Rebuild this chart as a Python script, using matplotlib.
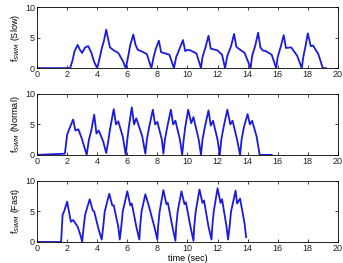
import numpy as np
import matplotlib.pyplot as plt

plt.rcParams['font.family'] = ['Liberation Sans', 'DejaVu Sans']

# slow walking
t_slow = [0, 2.2, 2.35, 2.5, 2.7, 2.85, 3.0, 3.2, 3.4, 3.6, 3.8, 4.0, 4.15, 4.3, 4.45, 4.6, 4.75, 4.85, 5.1, 5.4, 5.7, 5.9,
          6.05, 6.2, 6.4, 6.55, 6.7, 7.0, 7.3, 7.6, 7.75, 7.9, 8.1, 8.25, 8.4, 8.8, 9.1, 9.25, 9.45, 9.7, 9.85, 10.0, 10.2, 10.6, 10.9,
          11.0, 11.2, 11.4, 11.55, 11.7, 12.0, 12.3, 12.5, 12.65, 12.9, 13.1, 13.25, 13.4, 13.8, 14.2,
          14.3, 14.5, 14.7, 14.85, 15.0, 15.2, 15.6, 15.9, 16.0, 16.2, 16.4, 16.55, 16.9, 17.3, 17.6,
          17.7, 17.85, 18.0, 18.2, 18.35, 18.7, 19.0, 19.2]
f_slow = [0, 0, 1.2, 2.8, 3.8, 3.0, 2.5, 3.4, 3.6, 2.6, 1.0, 0, 1.5, 3.2, 4.5, 6.3, 4.5, 3.4, 2.9, 2.5, 1.2, 0,
          1.8, 3.8, 5.5, 3.8, 3.0, 2.7, 2.3, 0, 1.8, 3.2, 4.5, 2.6, 2.5, 2.2, 0, 1.8, 3.0, 4.6, 2.8, 3.0, 2.9, 2.4, 0,
          1.8, 3.4, 5.3, 3.2, 3.1, 2.9, 2.2, 0, 2.0, 3.6, 5.6, 3.5, 3.2, 2.5, 0,
          2.0, 3.6, 5.8, 3.4, 2.9, 2.8, 2.2, 0, 1.8, 3.5, 5.4, 3.3, 3.4, 2.0, 0,
          1.8, 3.6, 5.7, 3.6, 3.7, 2.3, 0, 0]

# normal walking
t_norm = [0, 1.85, 2.0, 2.15, 2.4, 2.55, 2.75, 3.0, 3.3, 3.45, 3.6, 3.8, 3.95, 4.1, 4.4, 4.6,
          4.75, 4.85, 5.1, 5.25, 5.4, 5.7, 5.9, 6.0, 6.1, 6.3, 6.45, 6.6, 7.0, 7.2,
          7.3, 7.45, 7.7, 7.85, 8.0, 8.3, 8.4, 8.5, 8.65, 8.9, 9.05, 9.2, 9.5, 9.65,
          9.75, 9.85, 10.05, 10.25, 10.4, 10.75, 10.9, 11.0, 11.15, 11.4, 11.55, 11.7, 12.0, 12.15,
          12.25, 12.4, 12.65, 12.85, 13.0, 13.3, 13.5, 13.6, 13.75, 14.0, 14.15, 14.3, 14.6, 14.8, 15.6]
f_norm = [0, 0.2, 3.3, 4.3, 5.8, 4.0, 4.2, 2.5, 0, 2.5, 3.9, 6.6, 3.5, 4.0, 2.2, 0.3,
          2.5, 4.2, 7.5, 5.0, 5.5, 3.0, 0, 2.5, 4.5, 7.8, 5.0, 6.0, 3.0, 0.2,
          2.5, 4.5, 7.4, 5.0, 5.4, 2.5, 0.2, 2.5, 4.5, 7.4, 5.0, 5.6, 2.5, 0,
          2.5, 4.5, 7.4, 5.2, 6.2, 2.5, 0, 2.5, 4.5, 7.3, 4.8, 5.6, 2.5, 0,
          2.5, 4.5, 7.4, 5.0, 5.6, 2.5, 0, 2.5, 4.5, 6.7, 5.0, 5.6, 3.0, 0, 0]

# fast walking
t_fast = [0, 1.6, 1.7, 1.8, 2.0, 2.25, 2.4, 2.7, 2.9, 3.0, 3.1, 3.2, 3.5, 3.7, 3.8, 4.1, 4.3,
          4.4, 4.5, 4.8, 5.0, 5.1, 5.4, 5.5, 5.6, 5.7, 6.0, 6.2, 6.3, 6.6, 6.8,
          6.85, 6.95, 7.2, 7.4, 7.8, 8.0, 8.05, 8.15, 8.4, 8.6, 8.7, 9.0, 9.2,
          9.25, 9.35, 9.6, 9.8, 9.9, 10.2, 10.4, 10.45, 10.55, 10.8, 11.0, 11.1, 11.4, 11.6,
          11.65, 11.75, 12.0, 12.2, 12.3, 12.6, 12.7, 12.8, 12.9, 13.2, 13.3, 13.5, 13.8, 13.9]
f_fast = [0, 0, 4.5, 5.0, 6.6, 3.3, 3.6, 2.5, 1.0, 0, 2.5, 4.5, 7.0, 5.2, 5.0, 2.0, 0.4,
          2.5, 5.0, 7.9, 6.0, 6.0, 2.5, 0.4, 2.5, 5.0, 8.3, 6.0, 6.3, 2.5, 0.4,
          2.5, 5.0, 7.8, 6.2, 2.5, 0.4, 2.5, 5.0, 8.5, 6.2, 6.4, 2.5, 0.2,
          2.5, 5.0, 8.3, 6.2, 6.5, 2.5, 0.2, 2.5, 5.0, 8.6, 6.4, 6.8, 2.5, 0.4,
          2.5, 5.0, 8.8, 6.4, 7.0, 2.5, 0.4, 2.5, 5.0, 8.4, 6.3, 7.1, 3.0, 0.8]

series = [(t_slow, f_slow, 'Slow'), (t_norm, f_norm, 'Normal'), (t_fast, f_fast, 'Fast')]

fig = plt.figure(figsize=(3.43, 2.63), dpi=100)
bottoms = [0.741, 0.411, 0.080]
for (t, f, name), b in zip(series, bottoms):
    ax = fig.add_axes([0.108, b, 0.877, 0.232])
    ax.plot(t, f, color='#1a1ae0', lw=1.3, solid_joinstyle='round')
    ax.set_xlim(0, 20)
    ax.set_ylim(0, 10)
    ax.set_xticks(np.arange(0, 21, 2))
    ax.set_yticks([0, 5, 10])
    ax.tick_params(direction='in', labelsize=6.5, length=2.5, width=0.6, pad=1.5,
                   colors='#222222', top=True, right=True)
    for s in ax.spines.values():
        s.set_linewidth(0.6)
    ax.set_ylabel('f$_{SWM}$ (' + name + ')', fontsize=6.5, labelpad=2)
ax.set_xlabel('time (sec)', fontsize=6.5, labelpad=1)

fig.savefig('out.png', dpi=100)
